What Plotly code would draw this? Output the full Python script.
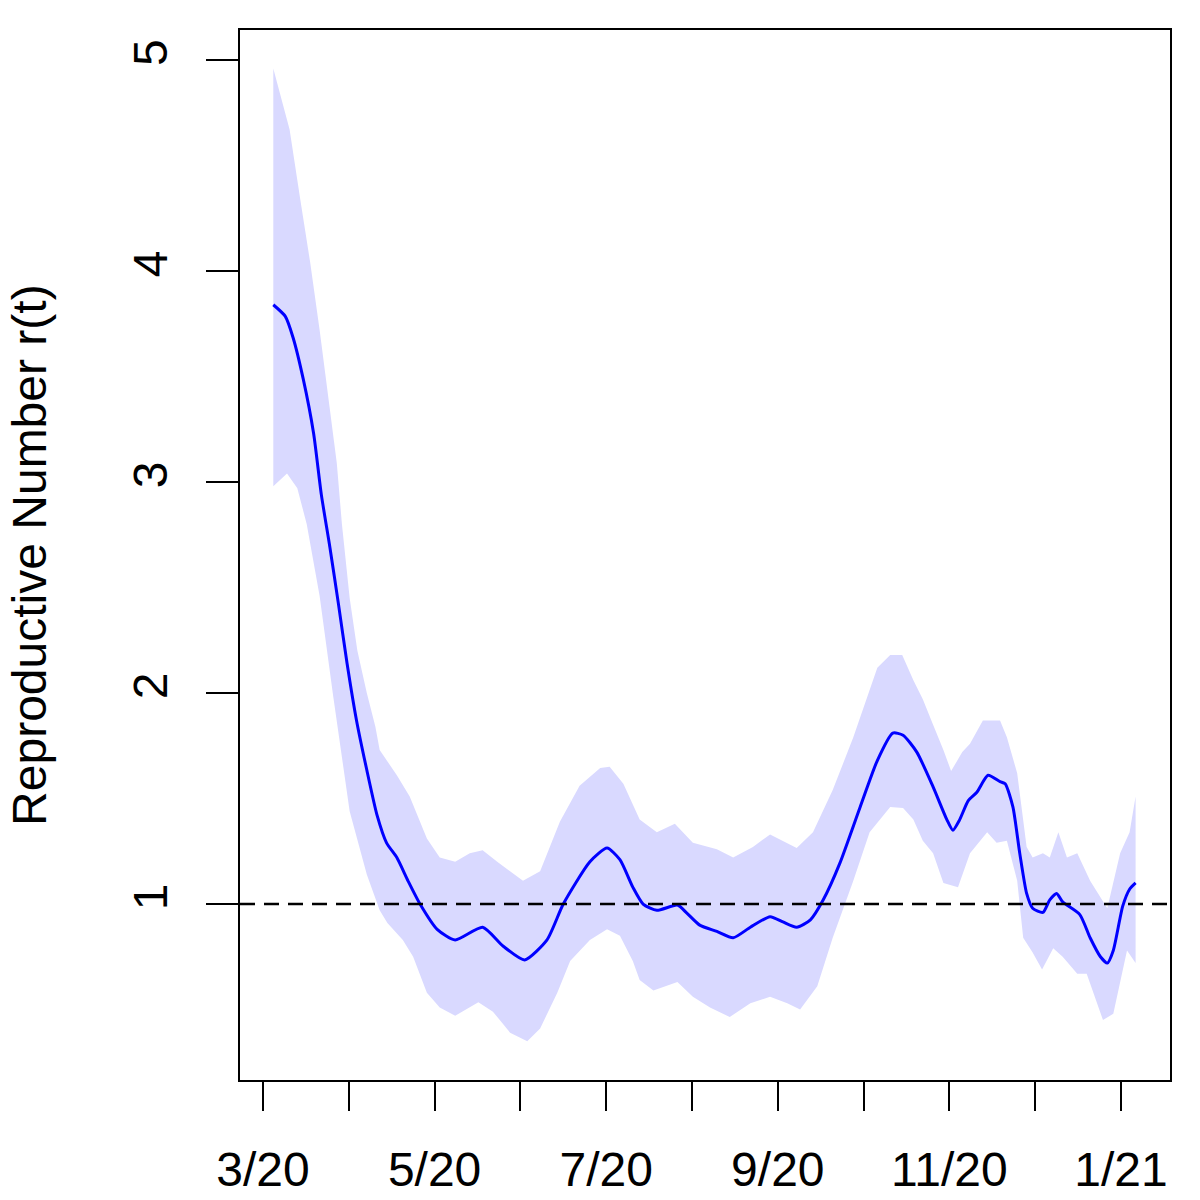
import plotly.graph_objects as go

# months since March 2020 (0 = 3/20, 10 = 1/21)
month_ticks = list(range(11))
month_labels = ["3/20", "", "5/20", "", "7/20", "", "9/20", "", "11/20", "", "1/21"]

# posterior mean of r(t)
mean_x = [0.12, 0.26, 0.35, 0.47, 0.59, 0.68, 0.78, 0.88, 0.98, 1.09, 1.21, 1.33,
          1.44, 1.56, 1.69, 1.83,
          2.03, 2.24, 2.56, 2.80, 3.05, 3.31, 3.50, 3.81, 4.01, 4.16, 4.31, 4.43,
          4.59, 4.83, 4.94, 5.09, 5.29, 5.48, 5.68, 5.91, 6.06, 6.22, 6.38, 6.53,
          6.72, 6.96, 7.16, 7.34, 7.46, 7.62, 7.81, 7.97, 8.04, 8.12, 8.22, 8.32,
          8.45, 8.59, 8.65, 8.74, 8.82, 8.90, 8.97, 9.09, 9.17, 9.25, 9.32, 9.52,
          9.64, 9.76, 9.84, 9.91, 10.02, 10.10, 10.17]
mean_r = [3.84, 3.785, 3.685, 3.486, 3.23, 2.94, 2.69, 2.42, 2.14, 1.87, 1.635, 1.42,
          1.29, 1.22, 1.11, 1.00,
          0.88, 0.83, 0.89, 0.80, 0.735, 0.83, 1.00, 1.20, 1.265, 1.21, 1.08, 1.00,
          0.97, 0.995, 0.957, 0.90, 0.87, 0.84, 0.89, 0.94, 0.915, 0.89, 0.925, 1.02,
          1.19, 1.46, 1.68, 1.81, 1.80, 1.72, 1.555, 1.40, 1.35, 1.40, 1.49, 1.53,
          1.61, 1.58, 1.57, 1.46, 1.24, 1.05, 0.98, 0.96, 1.02, 1.05, 1.01, 0.95,
          0.84, 0.75, 0.72, 0.78, 0.99, 1.07, 1.10]

# upper credible bound
upper_x = [0.12, 0.31, 0.43, 0.55, 0.66, 0.76, 0.86, 0.92, 1.01, 1.10, 1.21, 1.31, 1.36,
           1.56, 1.71, 1.91, 2.06, 2.24, 2.41, 2.56, 2.73, 3.03, 3.23, 3.46, 3.69,
           3.93, 4.04, 4.20, 4.39, 4.59, 4.80, 5.01, 5.29, 5.48, 5.71, 5.91, 6.06,
           6.22, 6.41, 6.64, 6.88, 7.16, 7.31, 7.45, 7.58, 7.69, 7.81, 7.93, 8.02,
           8.15, 8.24, 8.39, 8.59, 8.67, 8.79, 8.90, 8.97, 9.09, 9.17, 9.27, 9.37,
           9.49, 9.64, 9.84, 9.99, 10.10, 10.17]
upper_r = [4.96, 4.67, 4.35, 4.04, 3.72, 3.40, 3.09, 2.80, 2.45, 2.20, 2.00, 1.84, 1.73,
           1.61, 1.51, 1.31, 1.22, 1.20, 1.24, 1.255, 1.20, 1.11, 1.155, 1.39, 1.56,
           1.645, 1.65, 1.57, 1.40, 1.34, 1.38, 1.29, 1.26, 1.22, 1.27, 1.33, 1.30,
           1.265, 1.34, 1.54, 1.79, 2.12, 2.18, 2.18, 2.06, 1.97, 1.85, 1.73, 1.63,
           1.72, 1.76, 1.87, 1.87, 1.79, 1.62, 1.27, 1.22, 1.24, 1.22, 1.34, 1.22,
           1.24, 1.11, 0.98, 1.24, 1.34, 1.51]

# lower credible bound
lower_x = [0.12, 0.28, 0.40, 0.51, 0.66, 0.82, 1.01, 1.21, 1.36, 1.45, 1.63, 1.75,
           1.91, 2.06, 2.24, 2.41, 2.51, 2.68, 2.88, 3.08, 3.23, 3.43, 3.58, 3.81,
           4.01, 4.16, 4.31, 4.39, 4.55, 4.83, 5.01, 5.21, 5.44, 5.68, 5.91, 6.11,
           6.26, 6.46, 6.64, 6.88, 7.07, 7.31, 7.46, 7.58, 7.69, 7.81, 7.93, 8.10,
           8.24, 8.44, 8.55, 8.67, 8.79, 8.86, 8.97, 9.08, 9.21, 9.32, 9.49, 9.60,
           9.72, 9.79, 9.91, 10.07, 10.17]
lower_r = [2.98, 3.04, 2.97, 2.80, 2.46, 1.98, 1.44, 1.14, 0.97, 0.91, 0.83, 0.75,
           0.58, 0.51, 0.47, 0.51, 0.535, 0.49, 0.39, 0.35, 0.41, 0.58, 0.73, 0.83,
           0.88, 0.85, 0.73, 0.64, 0.59, 0.63, 0.56, 0.51, 0.465, 0.53, 0.56, 0.53,
           0.50, 0.61, 0.84, 1.11, 1.34, 1.46, 1.455, 1.40, 1.30, 1.24, 1.10, 1.08,
           1.24, 1.34, 1.29, 1.30, 1.11, 0.84, 0.77, 0.69, 0.79, 0.75, 0.67, 0.67,
           0.53, 0.45, 0.48, 0.78, 0.72]

FONT = "Liberation Sans, Arial, Helvetica, sans-serif"

fig = go.Figure()

# credible band as one closed polygon
fig.add_trace(go.Scatter(
    x=upper_x + lower_x[::-1],
    y=upper_r + lower_r[::-1],
    fill="toself",
    fillcolor="#D9D9FF",
    line=dict(width=0),
    mode="lines",
    hoverinfo="skip",
    showlegend=False,
))

fig.add_trace(go.Scatter(
    x=mean_x, y=mean_r,
    mode="lines",
    line=dict(color="#0000FF", width=3, shape="spline", smoothing=0.6),
    showlegend=False,
))

fig.add_hline(y=1, line=dict(color="black", width=2.5, dash="15px,9px"))

# y axis title placed by hand (axis title standoff is ignored without automargin)
fig.add_annotation(
    text="Reproductive Number r(t)",
    xref="paper", yref="paper", x=-0.227, y=0.5,
    xanchor="center", yanchor="middle",
    textangle=-90, showarrow=False,
    font=dict(family=FONT, size=48, color="black"),
)

fig.update_layout(
    width=1200, height=1200,
    margin=dict(l=240, r=30, t=30, b=120, autoexpand=False),
    plot_bgcolor="white", paper_bgcolor="white",
    font=dict(family=FONT, size=48, color="black"),
    xaxis=dict(
        range=[-0.268, 10.571],
        tickvals=month_ticks, ticktext=month_labels,
        ticks="outside", ticklen=29, tickwidth=2, tickcolor="black",
        ticklabelstandoff=17,
        showgrid=False, zeroline=False, automargin=False,
        showline=True, linecolor="black", linewidth=2, mirror=True,
    ),
    yaxis=dict(
        range=[0.166, 5.142],
        tickvals=[1, 2, 3, 4, 5],
        tickangle=-90,
        ticks="outside", ticklen=32, tickwidth=2, tickcolor="black",
        ticklabelstandoff=20,
        showgrid=False, zeroline=False, automargin=False,
        showline=True, linecolor="black", linewidth=2, mirror=True,
    ),
)

# drop the default page margin so the 1200x1200 figure sits at the window corner
fig.write_html("out.html", config={"displayModeBar": False},
               post_script="document.body.style.margin='0';")
